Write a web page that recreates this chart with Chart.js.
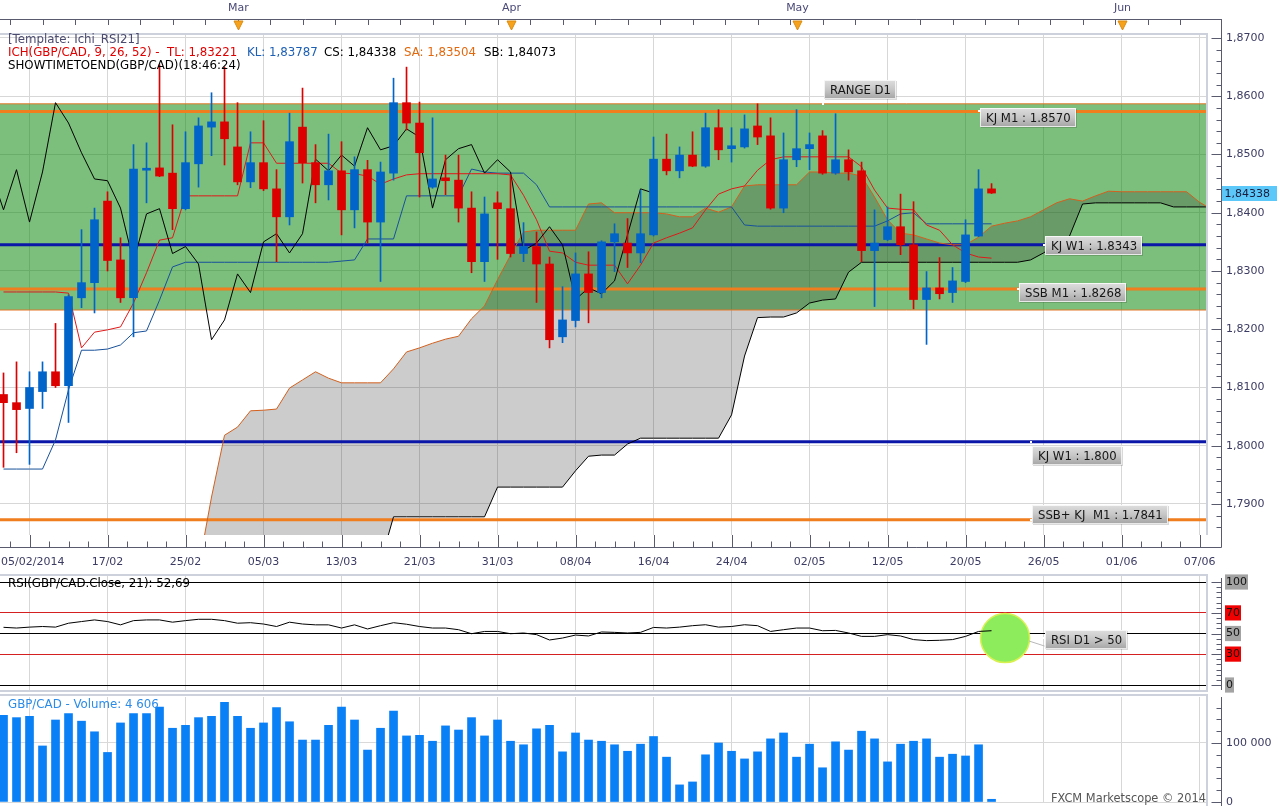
<!DOCTYPE html>
<html>
<head>
<meta charset="utf-8">
<title>GBP/CAD Ichimoku D1</title>
<script src="https://cdn.jsdelivr.net/npm/chart.js@4.4.1/dist/chart.umd.min.js"></script>
<style>
  html, body { margin: 0; padding: 0; background: #fff; }
  #page { position: relative; width: 1279px; height: 806px; overflow: hidden;
          font-family: "DejaVu Sans", Verdana, sans-serif; font-size: 11.8px; }
  canvas { position: absolute; left: 0; }
  .txt { position: absolute; white-space: pre; line-height: 13px; z-index: 2; }
</style>
</head>
<body>
<div id="page">
  <canvas id="main" width="1279" height="572" style="top:0"></canvas>
  <canvas id="rsi" width="1279" height="121" style="top:572px"></canvas>
  <canvas id="vol" width="1279" height="113" style="top:693px"></canvas>

  <div class="txt" style="left:8px;top:33px;color:#4b4b70">[Template: Ichi_RSI21]</div>
  <div class="txt" style="left:8px;top:46px;color:#e00000">ICH(GBP/CAD, 9, 26, 52) -  TL: 1,83221</div>
  <div class="txt" style="left:247px;top:46px;color:#1d5fb4">KL: 1,83787</div>
  <div class="txt" style="left:324px;top:46px;color:#000">CS: 1,84338</div>
  <div class="txt" style="left:404px;top:46px;color:#e2680e">SA: 1,83504</div>
  <div class="txt" style="left:484px;top:46px;color:#000">SB: 1,84073</div>
  <div class="txt" style="left:8px;top:59px;color:#000">SHOWTIMETOEND(GBP/CAD)(18:46:24)</div>
  <div class="txt" style="left:8px;top:577px;color:#000">RSI(GBP/CAD.Close, 21): 52,69</div>
  <div class="txt" style="left:8px;top:698px;color:#2b8be8">GBP/CAD - Volume: 4 606</div>
  <div class="txt" style="right:73px;top:792px;color:#555;font-size:11.4px">FXCM Marketscope © 2014</div>
</div>

<script>
// daily candles, 05/02/2014 .. 22/05/2014 (index 0..76)
const open = [1.8088,1.8074,1.8064,1.8093,1.8127,1.8103,1.8254,1.8280,1.8420,1.8319,
  1.8254,1.8473,1.8477,1.8468,1.8407,1.8484,1.8547,1.8556,1.8513,1.8453,
  1.8486,1.8441,1.8393,1.8547,1.8486,1.8448,1.8472,1.8405,1.8474,1.8384,
  1.8468,1.8589,1.8554,1.8444,1.8460,1.8456,1.8408,1.8316,1.8417,1.8407,
  1.8330,1.8342,1.8312,1.8187,1.8215,1.8295,1.8263,1.8350,1.8348,1.8331,
  1.8362,1.8492,1.8472,1.8499,1.8480,1.8546,1.8510,1.8513,1.8549,1.8532,
  1.8408,1.8491,1.8510,1.8532,1.8468,1.8491,1.8472,1.8335,1.8354,1.8376,
  1.8345,1.8251,1.8271,1.8263,1.8282,1.8360,1.8441];
const high = [1.8125,1.8144,1.8127,1.8144,1.8210,1.8259,1.8371,1.8408,1.8436,1.8357,
  1.8517,1.8520,1.8654,1.8551,1.8539,1.8563,1.8606,1.8650,1.8589,1.8539,
  1.8558,1.8474,1.8571,1.8614,1.8517,1.8535,1.8522,1.8496,1.8490,1.8487,
  1.8631,1.8650,1.8590,1.8563,1.8499,1.8499,1.8436,1.8427,1.8436,1.8465,
  1.8383,1.8367,1.8324,1.8273,1.8331,1.8333,1.8352,1.8381,1.8390,1.8439,
  1.8530,1.8535,1.8513,1.8539,1.8571,1.8577,1.8546,1.8568,1.8587,1.8563,
  1.8537,1.8577,1.8537,1.8541,1.8570,1.8508,1.8487,1.8405,1.8410,1.8432,
  1.8419,1.8299,1.8323,1.8306,1.8388,1.8474,1.8450];
const low = [1.7963,1.7988,1.7968,1.8064,1.8100,1.8040,1.8237,1.8228,1.8300,1.8246,
  1.8187,1.8417,1.8462,1.8371,1.8405,1.8444,1.8498,1.8482,1.8448,1.8443,
  1.8438,1.8316,1.8379,1.8451,1.8417,1.8422,1.8362,1.8374,1.8348,1.8282,
  1.8456,1.8542,1.8427,1.8442,1.8431,1.8384,1.8297,1.8282,1.8320,1.8324,
  1.8316,1.8246,1.8168,1.8177,1.8204,1.8211,1.8254,1.8299,1.8306,1.8314,
  1.8360,1.8465,1.8460,1.8479,1.8478,1.8491,1.8487,1.8511,1.8517,1.8406,
  1.8400,1.8479,1.8474,1.8466,1.8466,1.8456,1.8316,1.8239,1.8352,1.8328,
  1.8235,1.8174,1.8252,1.8246,1.8280,1.8359,1.8433];
const close = [1.8074,1.8062,1.8100,1.8127,1.8103,1.8256,1.8280,1.8388,1.8318,1.8254,
  1.8475,1.8476,1.8463,1.8407,1.8486,1.8549,1.8556,1.8527,1.8453,1.8486,
  1.8441,1.8393,1.8522,1.8486,1.8448,1.8472,1.8405,1.8474,1.8384,1.8470,
  1.8589,1.8554,1.8503,1.8458,1.8455,1.8408,1.8316,1.8398,1.8407,1.8330,
  1.8342,1.8312,1.8182,1.8216,1.8295,1.8263,1.8350,1.8364,1.8331,1.8364,
  1.8492,1.8472,1.8499,1.8480,1.8546,1.8508,1.8515,1.8544,1.8530,1.8408,
  1.8491,1.8510,1.8517,1.8468,1.8491,1.8470,1.8335,1.8348,1.8376,1.8345,
  1.8251,1.8271,1.8261,1.8283,1.8362,1.8441,1.84338];

const volume = [147000,143000,145000,95000,139000,150000,137000,119000,84000,134000,
  150000,150000,161000,125000,130000,143000,145000,169000,145000,125000,
  134000,160000,136000,105000,105000,130000,161000,139000,88000,125000,
  154000,112000,113000,103000,129000,122000,143000,112000,139000,103000,
  97000,124000,130000,85000,117000,105000,103000,97000,86000,98000,
  111000,76000,29000,34000,80000,100000,86000,73000,85000,107000,
  117000,76000,98000,58000,102000,88000,120000,107000,68000,98000,
  103000,107000,76000,81000,78000,97000,4606];

const rsi = [56,55.3,56.2,56.8,56.2,60,61.6,63.2,61.6,58.4,
  62.5,63.2,63.2,61,62.5,63.8,63.8,62.5,60,60.5,
  59.2,56.8,61,59.2,58.4,58.4,55.3,58.4,54.4,57.6,
  60.5,59,56.8,55.3,55.3,53.7,49.8,52,52,49.8,
  50.5,48.9,43.7,45.6,48.5,47.6,51.5,51.1,50.5,51.1,
  55.9,55.3,56.2,57.6,58.5,56.2,56.8,58.5,57.6,52,
  53.7,55.3,55.3,52.7,53,50.5,47.2,47.2,48.9,47.6,
  44.1,43.1,43.4,44.1,47.2,52,52.69];

// Ichimoku (9, 26, 52)
const tenkan = [1.8264,1.8264,1.8264,1.8264,1.8264,1.8262,1.8168,1.8195,1.8199,1.8204,
  1.8245,1.8297,1.8353,1.8357,1.8429,1.8429,1.8429,1.8429,1.8429,1.8520,
  1.8520,1.8485,1.8485,1.8485,1.8485,1.8485,1.8468,1.8467,1.8463,1.8449,
  1.8458,1.8465,1.8467,1.8467,1.8467,1.8467,1.8467,1.8467,1.8467,1.8465,
  1.8430,1.8388,1.8334,1.8331,1.8315,1.8310,1.8310,1.8310,1.8278,1.8310,
  1.8348,1.8357,1.8365,1.8374,1.8405,1.8432,1.8441,1.8446,1.8473,1.8491,
  1.8496,1.8496,1.8496,1.8496,1.8496,1.8496,1.8479,1.8439,1.8408,1.8406,
  1.8405,1.8379,1.8370,1.8345,1.8331,1.8324,1.8322];
const kijun = [1.7960,1.7960,1.7960,1.7960,1.8010,1.8096,1.8164,1.8164,1.8166,1.8173,
  1.8194,1.8197,1.8250,1.8307,1.8315,1.8315,1.8315,1.8315,1.8315,1.8315,
  1.8315,1.8315,1.8315,1.8315,1.8315,1.8315,1.8317,1.8319,1.8355,1.8355,
  1.8355,1.8429,1.8429,1.8429,1.8429,1.8429,1.8475,1.8470,1.8468,1.8468,
  1.8468,1.8448,1.8410,1.8410,1.8410,1.8410,1.8410,1.8410,1.8410,1.8410,
  1.8410,1.8410,1.8410,1.8410,1.8410,1.8410,1.8410,1.8379,1.8377,1.8377,
  1.8377,1.8377,1.8377,1.8377,1.8377,1.8377,1.8377,1.8377,1.8386,1.8398,
  1.8400,1.8381,1.8381,1.8381,1.8381,1.8381,1.8381];
const cloudStart = 15;   // index of first senkou value
const senkouA = [1.7790,1.7912,1.8018,1.8032,1.8060,1.8061,1.8063,1.8099,1.8113,1.8127,
  1.8116,1.8108,1.8108,1.8108,1.8108,1.8132,1.8161,1.8168,1.8176,1.8183,
  1.8188,1.8218,1.8240,1.8285,1.8327,1.8367,1.8370,1.8370,1.8370,1.8370,
  1.8415,1.8417,1.8400,1.8400,1.8400,1.8400,1.8398,1.8393,1.8393,1.8408,
  1.8401,1.8410,1.8446,1.8448,1.8448,1.8448,1.8448,1.8470,1.8470,1.8468,
  1.8468,1.8463,1.8427,1.8388,1.8365,1.8362,1.8355,1.8348,1.8345,1.8345,
  1.8358,1.8377,1.8382,1.8386,1.8393,1.8405,1.8417,1.8424,1.8420,1.8429,
  1.8437,1.8436,1.8436,1.8436,1.8436,1.8436,1.8436,1.8418,1.8405];
const senkouB = [1.7800,1.7800,1.7800,1.7800,1.7800,1.7800,1.7800,1.7800,1.7800,1.7800,
  1.7800,1.7800,1.7800,1.7800,1.7800,1.7878,1.7878,1.7878,1.7878,1.7878,
  1.7878,1.7878,1.7878,1.7929,1.7929,1.7929,1.7929,1.7929,1.7929,1.7957,
  1.7982,1.7984,1.7984,1.8003,1.8013,1.8013,1.8013,1.8013,1.8013,1.8013,
  1.8013,1.8053,1.8154,1.8220,1.8221,1.8221,1.8228,1.8245,1.8250,1.8252,
  1.8298,1.8315,1.8315,1.8315,1.8315,1.8315,1.8315,1.8315,1.8315,1.8315,
  1.8315,1.8315,1.8315,1.8315,1.8319,1.8331,1.8346,1.8360,1.8415,1.8417,
  1.8417,1.8417,1.8417,1.8417,1.8417,1.8410,1.8410,1.8410,1.8410];

// drawn levels
const bandTop = 1.8587, bandBottom = 1.8233;
const kjM1 = 1.8574, ssbM1 = 1.8269, kjW1 = 1.8345, kjW1Low = 1.8007, ssbKjM1 = 1.7873;

// axes
const priceTicks = [1.79, 1.80, 1.81, 1.82, 1.83, 1.84, 1.85, 1.86, 1.87];
const rsiTicks = [0, 30, 50, 70, 100];
const volTicks = [0, 100000];
const dateTickIdx = [2, 8, 14, 20, 26, 32, 38, 44, 50, 56, 62, 68, 74, 80, 86, 92];
const dateTickText = ['05/02/2014', '17/02', '25/02', '05/03', '13/03', '21/03', '31/03', '08/04',
  '16/04', '24/04', '02/05', '12/05', '20/05', '26/05', '01/06', '07/06'];
const monthIdx = [18, 39, 61, 86];
const monthText = ['Mar', 'Apr', 'May', 'Jun'];

// ---------------------------------------------------------------
Chart.defaults.font.family = '"DejaVu Sans", Verdana, sans-serif';
Chart.defaults.font.size = 11;
const FONT = '11px "DejaVu Sans", Verdana, sans-serif';
const TAG_FONT = '11.7px "DejaVu Sans", Verdana, sans-serif';
const RED = '#dc0000', BLUE = '#0064c8', ORANGE = '#f07d1e', NAVY = '#0a16a8';
const AXIS_COLOR = '#5a5a6e', LABEL_COLOR = '#3b3b63', FRAME = '#cdd1db';
const xMin = -0.27, xMax = 92.65;
const yMin = 1.784678, yMax = 1.870858;

const xAxis = h => ({
  type: 'linear', min: xMin, max: xMax, offset: false,
  afterBuildTicks: s => { s.ticks = dateTickIdx.map(v => ({ value: v })); },
  afterFit: s => { s.height = h; },
  ticks: { display: false },
  grid: { color: '#d7d7d7', drawTicks: false, offset: false },
  border: { display: false }
});
// right value axis: fixed width, no extra vertical padding for the labels
const fitRight = s => { s.width = 71; s.paddingTop = 0; s.paddingBottom = 0; };

const candleColor = ctx => close[ctx.dataIndex] >= open[ctx.dataIndex] ? BLUE : RED;
const line = (data, color, width, order) => ({
  type: 'line', data, borderColor: color, borderWidth: width, pointRadius: 0,
  fill: false, tension: 0, order, xAxisID: 'x', yAxisID: 'y'
});
const flat = v => [{ x: xMin - 1, y: v }, { x: xMax + 1, y: v }];
const fromIndex = (arr, start) => arr.map((v, k) => ({ x: start + k, y: v }));

const ds = [];
ds.push({ type: 'bar', data: close.map((c, i) => ({ x: i, y: [open[i], c] })), backgroundColor: candleColor,
  barThickness: 8, minBarLength: 2, grouped: false, order: 1, xAxisID: 'x', yAxisID: 'y' });
ds.push({ type: 'bar', data: close.map((c, i) => ({ x: i, y: [low[i], high[i]] })), backgroundColor: candleColor,
  barThickness: 1, grouped: false, order: 2, xAxisID: 'x', yAxisID: 'y' });
// chikou span: close shifted back 26 bars
ds.push(line(close.slice(25).map((c, k) => ({ x: k - 1, y: c })), '#000', 1, 3));
ds.push(line(fromIndex(tenkan, 0), '#e01818', 1, 3));
ds.push(line(fromIndex(kijun, 0), '#17509a', 1, 3));
ds.push(line(fromIndex(senkouA, cloudStart), '#d2601e', 1, 4));
ds.push(line(fromIndex(senkouB, cloudStart), '#000', 1, 4));
ds.push(line(flat(bandTop), '#e5782a', 1, 5));
ds.push(line(flat(bandBottom), '#e5782a', 1, 5));
ds.push(line(flat(kjM1), ORANGE, 3, 5));
ds.push(line(flat(ssbM1), ORANGE, 3, 5));
ds.push(line(flat(ssbKjM1), ORANGE, 3, 5));
ds.push(line(flat(kjW1), NAVY, 3, 5));
ds.push(line(flat(kjW1Low), NAVY, 3, 5));
// kumo (on top of the range band)
ds.push(line(fromIndex(senkouB, cloudStart), 'transparent', 0, 7));
ds.push(Object.assign(line(fromIndex(senkouA, cloudStart), 'transparent', 0, 7),
  { fill: { target: ds.length - 1 }, backgroundColor: 'rgba(40,40,40,0.24)' }));
// range band
ds.push(line(flat(bandBottom), 'transparent', 0, 8));
ds.push(Object.assign(line(flat(bandTop), 'transparent', 0, 8),
  { fill: { target: ds.length - 1 }, backgroundColor: 'rgba(17,137,17,0.55)' }));

function rightAxis(ctx, scale, axX, y0, y1, majors, step, lo, hi) {
  ctx.strokeStyle = AXIS_COLOR; ctx.lineWidth = 1;
  ctx.beginPath();
  ctx.moveTo(axX, y0); ctx.lineTo(axX, y1);
  majors.forEach(v => {
    const p = Math.round(scale.getPixelForValue(v)) + 0.5;
    ctx.moveTo(axX - 10, p); ctx.lineTo(axX, p);
  });
  for (let k = Math.ceil(lo / step); k * step <= hi; k++) {
    const p = Math.round(scale.getPixelForValue(k * step)) + 0.5;
    if (p < y0 || p > y1) continue;
    ctx.moveTo(axX - 5, p); ctx.lineTo(axX, p);
  }
  ctx.stroke();
}

function tag(ctx, text, px, py, dy) {
  ctx.font = TAG_FONT;
  const w = Math.round(ctx.measureText(text).width) + 11, h = 19;
  const bx = Math.round(px) + 1, by = Math.round(py) + dy;
  ctx.fillStyle = 'rgba(0,0,0,0.15)';
  ctx.fillRect(bx + 1, by + 1, w, h);
  const g = ctx.createLinearGradient(0, by, 0, by + h);
  g.addColorStop(0, '#dedede'); g.addColorStop(0.5, '#c6c6c6'); g.addColorStop(1, '#a4a4a4');
  ctx.fillStyle = g;
  ctx.fillRect(bx, by, w, h);
  ctx.strokeStyle = 'rgba(255,255,255,0.75)'; ctx.lineWidth = 1;
  ctx.strokeRect(bx + 0.5, by + 0.5, w - 1, h - 1);
  ctx.fillStyle = '#161616'; ctx.textAlign = 'left'; ctx.textBaseline = 'middle';
  ctx.fillText(text, bx + 6, by + h / 2 + 1);
  ctx.fillStyle = '#fff';
  ctx.fillRect(Math.round(px) - 1, Math.round(py) - 1, 2, 2);
}

const mainTags = [
  ['RANGE D1', 63, bandTop, -24],
  ['KJ M1 : 1.8570', 75, kjM1, -3],
  ['KJ W1 : 1.8343', 80, kjW1, -9],
  ['SSB M1 : 1.8268', 78, ssbM1, -6],
  ['KJ W1 : 1.800', 79, kjW1Low, 4],
  ['SSB+ KJ  M1 : 1.7841', 79, ssbKjM1, -15]
];

const mainDecor = {
  id: 'mainDecor',
  afterDraw(chart) {
    const { ctx, chartArea: a, scales: { x, y } } = chart;
    const axX = a.right + 13.5;
    ctx.save();
    // plot frame
    ctx.strokeStyle = FRAME; ctx.lineWidth = 2;
    ctx.beginPath(); ctx.moveTo(0, a.top + 1); ctx.lineTo(a.right - 1, a.top + 1); ctx.lineTo(a.right - 1, a.bottom); ctx.stroke();

    // top month axis
    ctx.strokeStyle = AXIS_COLOR; ctx.lineWidth = 1;
    ctx.beginPath(); ctx.moveTo(0, 19.5); ctx.lineTo(axX, 19.5);
    for (let v = 0.5; v < xMax; v += 2.5) {
      const p = Math.round(x.getPixelForValue(v)) + 0.5;
      ctx.moveTo(p, 19.5); ctx.lineTo(p, 25);
    }
    ctx.stroke();
    ctx.font = FONT; ctx.textAlign = 'center'; ctx.textBaseline = 'middle';
    monthIdx.forEach((v, k) => {
      const p = Math.round(x.getPixelForValue(v)) + 0.5;
      ctx.fillStyle = '#4a4a78';
      ctx.fillText(monthText[k], p, 8);
      ctx.fillStyle = '#f7a21b'; ctx.strokeStyle = '#d88a10';
      ctx.beginPath(); ctx.moveTo(p - 4.5, 21); ctx.lineTo(p + 4.5, 21); ctx.lineTo(p, 30); ctx.closePath();
      ctx.fill(); ctx.stroke();
    });

    // bottom date axis
    const by = a.bottom + 12.5;
    ctx.strokeStyle = AXIS_COLOR;
    ctx.beginPath(); ctx.moveTo(0, by); ctx.lineTo(axX, by);
    dateTickIdx.forEach(v => {
      const p = Math.round(x.getPixelForValue(v)) + 0.5;
      ctx.moveTo(p, a.bottom); ctx.lineTo(p, by);
    });
    for (let v = dateTickIdx[0] - 1.5; v < xMax; v += 1.5) {
      const p = Math.round(x.getPixelForValue(v)) + 0.5;
      if (p < 0) continue;
      ctx.moveTo(p, by - 6); ctx.lineTo(p, by);
    }
    ctx.stroke();
    ctx.fillStyle = LABEL_COLOR;
    dateTickIdx.forEach((v, k) => {
      const t = dateTickText[k];
      const w = ctx.measureText(t).width;
      const p = Math.max(x.getPixelForValue(v), w / 2 + 1);
      ctx.fillText(t, p, 562);
    });

    // price axis
    rightAxis(ctx, y, axX, 19, by, priceTicks, 0.002, yMin, yMax);

    // last price marker
    const last = close[close.length - 1];
    const lp = Math.round(y.getPixelForValue(last));
    ctx.fillStyle = '#5cc8fa';
    ctx.fillRect(axX + 0.5, lp - 7, 55, 15);
    ctx.fillStyle = '#1c1c3c'; ctx.textAlign = 'left';
    ctx.fillText(last.toFixed(5).replace('.', ','), axX + 3, lp + 1);

    mainTags.forEach(t => tag(ctx, t[0], x.getPixelForValue(t[1]), y.getPixelForValue(t[2]), t[3]));
    ctx.restore();
  }
};

new Chart(document.getElementById('main'), {
  type: 'bar',
  data: { datasets: ds },
  options: {
    responsive: false, animation: false, events: [], devicePixelRatio: 1,
    layout: { padding: 0, autoPadding: false },
    plugins: { legend: { display: false }, tooltip: { enabled: false } },
    scales: {
      x: xAxis(37),
      xTop: { type: 'linear', position: 'top', min: xMin, max: xMax, offset: false,
        afterFit: s => { s.height = 33; }, ticks: { display: false },
        grid: { display: false }, border: { display: false } },
      y: { position: 'right', min: yMin, max: yMax,
        afterBuildTicks: s => { s.ticks = priceTicks.map(v => ({ value: v })); },
        afterFit: fitRight,
        ticks: { padding: 18, color: LABEL_COLOR, callback: v => v.toFixed(4).replace('.', ',') },
        grid: { color: '#d7d7d7', drawTicks: false }, border: { display: false } }
    }
  },
  plugins: [mainDecor]
});

// ---------------------------------------------------------------
const rsiMarker = { x: 77.04, y: 45.6 };
const panelFrame = (ctx, a, topY, bottomY, closeBottom) => {
  ctx.strokeStyle = FRAME; ctx.lineWidth = 2;
  ctx.beginPath();
  ctx.moveTo(0, topY); ctx.lineTo(a.right - 1, topY); ctx.lineTo(a.right - 1, bottomY);
  if (closeBottom) ctx.lineTo(0, bottomY);
  ctx.stroke();
};

const rsiDecor = {
  id: 'rsiDecor',
  afterDraw(chart) {
    const { ctx, chartArea: a, scales: { x, y } } = chart;
    ctx.save();
    panelFrame(ctx, a, a.top - 1, a.bottom + 1, true);
    rightAxis(ctx, y, a.right + 13.5, a.top + 2, a.bottom, rsiTicks, 5, -4, 105);
    const cx = x.getPixelForValue(rsiMarker.x), cy = y.getPixelForValue(rsiMarker.y);
    const tx = x.getPixelForValue(80);
    ctx.strokeStyle = '#b8b8b8'; ctx.lineWidth = 1;
    ctx.beginPath(); ctx.moveTo(cx + 24, cy + 3); ctx.lineTo(tx + 1, cy + 8); ctx.stroke();
    tag(ctx, 'RSI D1 > 50', tx, cy, -8);
    ctx.restore();
  }
};

new Chart(document.getElementById('rsi'), {
  type: 'line',
  data: {
    datasets: [
      { data: rsi.map((v, i) => ({ x: i, y: v })), borderColor: '#000', borderWidth: 1, pointRadius: 0, tension: 0, order: 1 },
      { data: [rsiMarker], showLine: false, pointRadius: 24.5, backgroundColor: '#8cec5c',
        borderColor: '#d8f050', borderWidth: 1.5, order: 2 }
    ]
  },
  options: {
    responsive: false, animation: false, events: [], devicePixelRatio: 1,
    layout: { padding: { top: 4, bottom: 3 }, autoPadding: false },
    plugins: { legend: { display: false }, tooltip: { enabled: false } },
    scales: {
      x: xAxis(0),
      y: { position: 'right', min: -4.85, max: 105.83,
        afterBuildTicks: s => { s.ticks = rsiTicks.map(v => ({ value: v })); },
        afterFit: fitRight,
        ticks: { padding: 18, color: '#111', showLabelBackdrop: true,
          backdropColor: c => (c.tick.value === 30 || c.tick.value === 70) ? '#f00000' : '#a3a3a3',
          backdropPadding: { x: 1, y: 1 } },
        grid: { drawTicks: false, color: c => (c.tick.value === 30 || c.tick.value === 70) ? '#d42020' : '#000' },
        border: { display: false } }
    }
  },
  plugins: [rsiDecor]
});

// ---------------------------------------------------------------
const volDecor = {
  id: 'volDecor',
  afterDraw(chart) {
    const { ctx, chartArea: a, scales: { y } } = chart;
    ctx.save();
    panelFrame(ctx, a, a.top - 2, chart.height, false);
    rightAxis(ctx, y, a.right + 13.5, a.top, chart.height, volTicks, 20000, 0, 178000);
    ctx.restore();
  }
};

new Chart(document.getElementById('vol'), {
  type: 'bar',
  data: { datasets: [{ data: volume.map((v, i) => ({ x: i, y: v })), backgroundColor: '#0a80f6',
    barThickness: 8, grouped: false }] },
  options: {
    responsive: false, animation: false, events: [], devicePixelRatio: 1,
    layout: { padding: { top: 4, bottom: 4 }, autoPadding: false },
    plugins: { legend: { display: false }, tooltip: { enabled: false } },
    scales: {
      x: xAxis(0),
      y: { position: 'right', min: 0, max: 177966,
        afterBuildTicks: s => { s.ticks = volTicks.map(v => ({ value: v })); },
        afterFit: fitRight,
        ticks: { padding: 18, color: LABEL_COLOR,
          callback: v => String(v).replace(/\B(?=(\d{3})+$)/g, ' ') },
        grid: { drawTicks: false, color: '#d9d9d9' }, border: { display: false } }
    }
  },
  plugins: [volDecor]
});
</script>
</body>
</html>
